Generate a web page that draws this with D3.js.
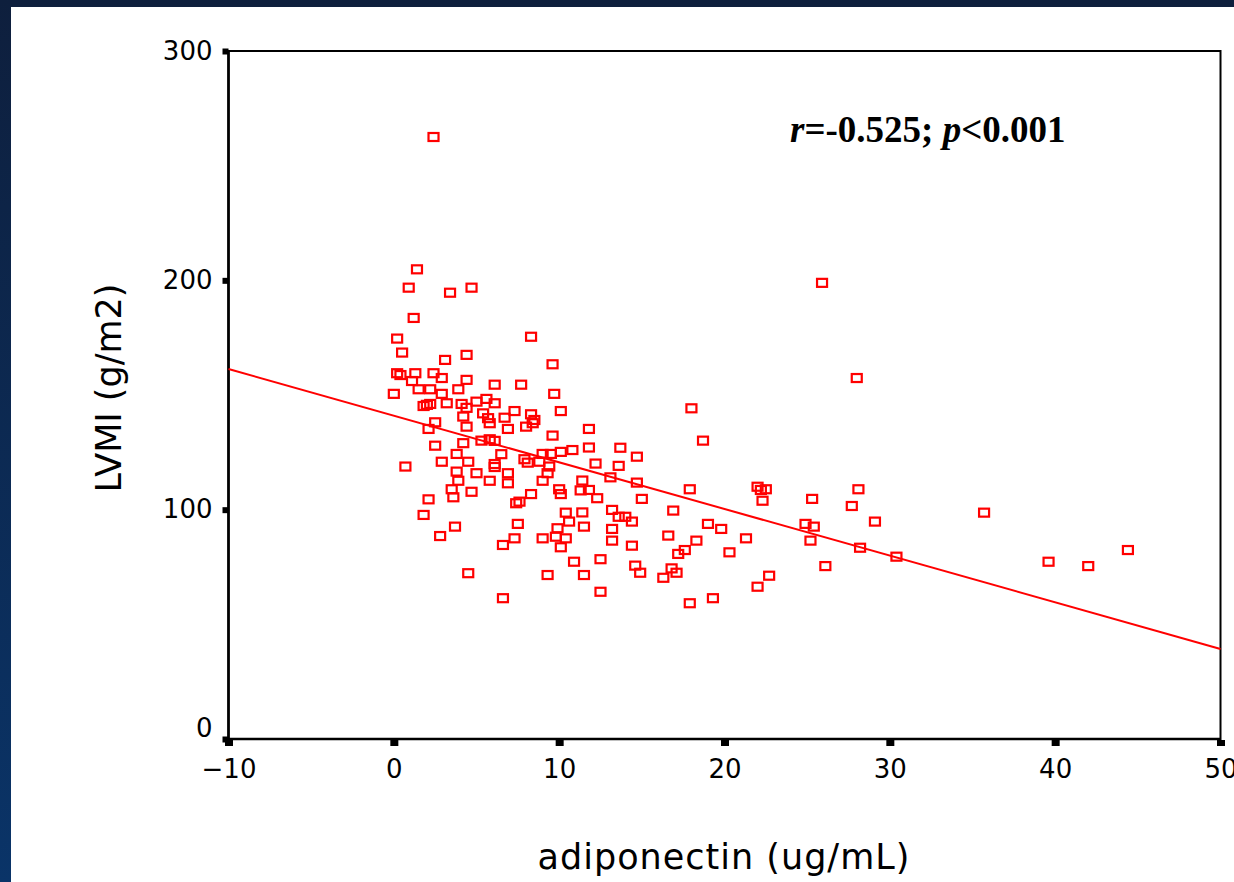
<!DOCTYPE html>
<html>
<head>
<meta charset="utf-8">
<script src="https://cdn.jsdelivr.net/npm/d3@7"></script>
<style>
  body { margin: 0; overflow: hidden; }
</style>
</head>
<body>
<svg id="chart" width="1234" height="882"></svg>
<script>
// Data
const adiponectin = [
  2.4, 1.4, 0.9, 3.4, 4.7, 1.2, 0.2, 0.5, 8.3, 3.1, 4.4, 9.6, 0.2, 0.4, 1.3, 2.4, 2.9, 4.4, 6.1, 7.7,
  1.1, 0.0, 1.5, 2.2, 2.9, 3.9, 9.7, 10.1, 2.0, 2.2, 1.8, 3.2, 4.1, 4.4, 5.0, 5.6, 6.1, 7.3, 8.3, 8.5,
  8.4, 5.4, 5.7, 5.8, 6.7, 4.2, 2.5, 2.1, 4.4, 6.9, 8.0, 9.6, 11.8, 5.3, 5.8, 6.1, 2.5, 4.2, 11.8, 10.8,
  10.1, 9.0, 9.5, 3.8, 6.5, 7.9, 2.9, 0.7, 12.2, 4.5, 6.1, 6.1, 8.1, 8.8, 9.4, 9.3, 3.8, 5.0, 6.9, 3.9,
  5.8, 6.9, 9.0, 11.4, 3.5, 3.6, 4.7, 10.0, 10.1, 11.3, 11.8, 12.3, 2.1, 8.3, 7.6, 7.4, 1.8, 10.4, 11.4, 10.6,
  3.7, 7.5, 11.5, 9.9, 2.8, 7.3, 9.0, 9.8, 10.4, 6.6, 10.1, 10.9, 12.5, 4.5, 9.3, 11.5, 12.5, 6.6,
  18.0, 18.7, 13.7, 14.7, 13.6, 13.1, 14.7, 15.0, 17.9, 22.0, 22.2, 22.5, 22.3, 25.3, 28.1, 27.7, 29.1,
  13.2, 13.6, 14.0, 14.4, 16.9, 13.2, 13.2, 16.6, 14.4, 19.0, 19.8, 18.3, 21.3, 17.6, 17.2, 20.3,
  24.9, 25.4, 25.2, 28.2, 14.6, 14.9, 16.8, 17.1, 16.3, 26.1, 22.7, 22.0, 17.9, 19.3,
  30.4, 35.7, 39.6, 42.0, 44.4, 25.9, 28.0
];
const lvmi = [
  262.5, 204.8, 196.8, 194.6, 196.8, 183.6, 174.6, 168.5, 175.4, 165.3, 167.5, 163.4, 159.5, 158.7, 159.5, 159.5, 157.4, 156.6, 154.5, 154.5,
  156.1, 150.5, 152.5, 152.5, 150.5, 152.5, 150.5, 143.0, 145.7, 146.1, 145.2, 146.4, 146.1, 144.4, 147.1, 148.3, 146.4, 143.0, 141.6, 139.1,
  137.7, 142.0, 139.9, 137.7, 140.1, 140.6, 138.1, 135.2, 136.2, 135.2, 136.2, 132.3, 135.2, 130.1, 130.7, 130.0, 127.9, 129.0, 127.1, 126.0,
  125.2, 124.3, 124.3, 124.3, 124.2, 122.0, 120.9, 118.8, 120.1, 120.9, 119.9, 118.6, 120.5, 120.9, 118.8, 115.9, 116.6, 115.9, 115.9, 112.6,
  112.6, 111.5, 112.6, 112.7, 108.9, 105.4, 107.8, 108.9, 106.8, 108.4, 108.6, 105.0, 104.5, 106.8, 103.5, 102.8, 97.7, 98.7, 98.8, 94.8,
  92.6, 93.8, 92.6, 91.9, 88.5, 87.5, 87.5, 88.2, 87.5, 84.6, 83.6, 77.3, 78.4, 72.3, 71.5, 71.5, 64.2, 61.4,
  144.2, 130.1, 127.0, 123.1, 119.1, 114.1, 111.8, 104.7, 108.9, 110.0, 108.6, 108.9, 103.9, 104.7, 108.9, 101.6, 94.8,
  99.9, 96.9, 96.9, 94.8, 99.6, 91.6, 86.5, 88.7, 84.3, 93.8, 91.6, 86.5, 87.5, 82.4, 80.7, 81.4,
  93.8, 92.6, 86.5, 83.4, 75.6, 72.5, 74.4, 72.5, 70.3, 75.4, 71.2, 66.4, 59.2, 61.4,
  79.5, 98.7, 77.3, 75.4, 82.4, 198.9, 157.4
];
const xTicks = [-10, 0, 10, 20, 30, 40, 50];
const yTicks = [0, 100, 200, 300];
// fit line as drawn in the figure
const fitIntercept = 141.0;
const fitSlope = -2.035;

const width = 1234;
const height = 882;
const plotLeft = 228.5, plotRight = 1220.5, plotTop = 51, plotBottom = 739;

const svg = d3.select("#chart");

// dark blue slide background with white panel
const grad = svg.append("defs").append("linearGradient")
  .attr("id", "bg").attr("x1", 0).attr("y1", 0).attr("x2", 0).attr("y2", 1);
grad.append("stop").attr("offset", "0%").attr("stop-color", "#0e1f3d");
grad.append("stop").attr("offset", "100%").attr("stop-color", "#0a3468");
svg.append("rect").attr("width", width).attr("height", height).attr("fill", "url(#bg)");
svg.append("rect").attr("x", 11).attr("y", 7).attr("width", width - 11).attr("height", height - 7).attr("fill", "#fff");

const x = d3.scaleLinear().domain([-10, 50]).range([plotLeft, plotRight]);
const y = d3.scaleLinear().domain([0, 300]).range([plotBottom, plotTop]);

// frame
svg.append("rect")
  .attr("x", plotLeft).attr("y", plotTop)
  .attr("width", plotRight - plotLeft).attr("height", plotBottom - plotTop)
  .attr("fill", "none").attr("stroke", "#000").attr("stroke-width", 2);
svg.append("line")
  .attr("x1", plotLeft).attr("x2", plotLeft).attr("y1", plotTop).attr("y2", plotBottom)
  .attr("stroke", "#000").attr("stroke-width", 2.6);
svg.append("line")
  .attr("x1", plotLeft).attr("x2", plotRight).attr("y1", plotBottom).attr("y2", plotBottom)
  .attr("stroke", "#000").attr("stroke-width", 2.6);

// axes
const xAxis = svg.append("g")
  .attr("transform", `translate(0,${plotBottom})`)
  .call(d3.axisBottom(x).tickValues(xTicks).tickSize(6).tickPadding(15)
    .tickFormat(d => d < 0 ? "\u2212" + Math.abs(d) : d));
const yAxis = svg.append("g")
  .attr("transform", `translate(${plotLeft},0)`)
  .call(d3.axisLeft(y).tickValues(yTicks).tickSize(6).tickPadding(10));

xAxis.select(".domain").remove();
yAxis.select(".domain").remove();
xAxis.selectAll(".tick line").attr("stroke-width", 8).attr("transform", "translate(0,1)");
yAxis.selectAll(".tick line").attr("stroke-width", 6);
svg.selectAll(".tick text")
  .attr("fill", "#000")
  .attr("font-family", "DejaVu Sans")
  .attr("font-size", "26px");
// the zero label sits a little above its tick in the original
yAxis.selectAll(".tick text").filter(d => d === 0).attr("y", -11);

// axis titles
svg.append("text")
  .attr("x", 724).attr("y", 869)
  .attr("text-anchor", "middle")
  .attr("font-family", "DejaVu Sans")
  .attr("font-size", "35px")
  .attr("letter-spacing", "1px")
  .text("adiponectin (ug/mL)");
svg.append("text")
  .attr("transform", "translate(121,388) rotate(-90)")
  .attr("text-anchor", "middle")
  .attr("font-family", "DejaVu Sans")
  .attr("font-size", "35px")
  .text("LVMI (g/m2)");

// fit line
svg.append("line")
  .attr("x1", x(-10)).attr("y1", y(fitIntercept + fitSlope * -10))
  .attr("x2", x(50)).attr("y2", y(fitIntercept + fitSlope * 50))
  .attr("stroke", "#ff0000").attr("stroke-width", 2);

// points
const points = adiponectin.map((d, i) => ({ a: d, l: lvmi[i] }));
svg.append("g")
  .selectAll("rect")
  .data(points)
  .join("rect")
  .attr("x", d => x(d.a) - 5)
  .attr("y", d => y(d.l) - 4)
  .attr("width", 10)
  .attr("height", 8)
  .attr("fill", "none")
  .attr("stroke", "#ff0000")
  .attr("stroke-width", 2.2);

// correlation note
const note = svg.append("text")
  .attr("x", 790).attr("y", 142)
  .attr("font-family", "Liberation Serif")
  .attr("font-weight", "bold")
  .attr("font-size", "37px");
note.append("tspan").attr("font-style", "italic").text("r");
note.append("tspan").text("=-0.525; ");
note.append("tspan").attr("font-style", "italic").text("p");
note.append("tspan").text("<0.001");
</script>
</body>
</html>
